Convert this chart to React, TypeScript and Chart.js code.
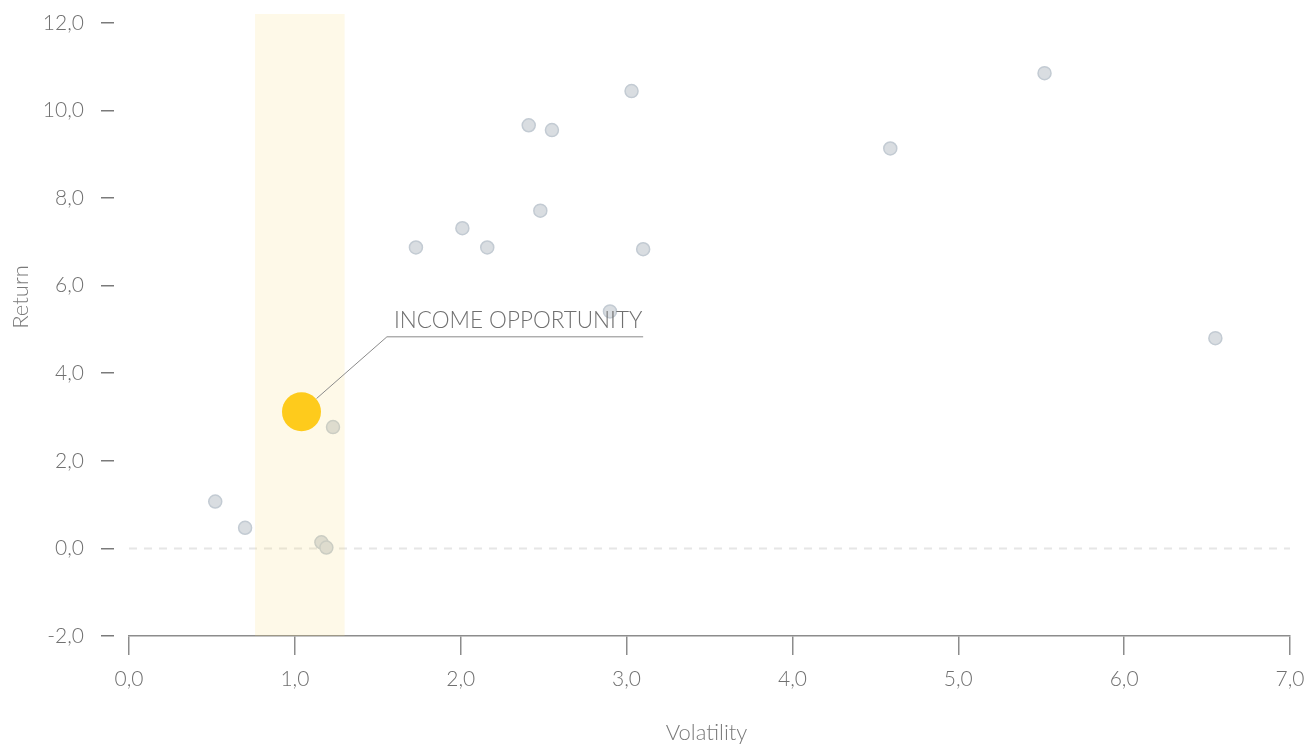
import React, { useEffect, useRef } from "react";
import { Chart, registerables } from "chart.js";

Chart.register(...registerables);

const volatility = [0.52, 0.70, 1.16, 1.19, 1.23, 1.73, 2.01, 2.16, 2.41, 2.48, 2.55, 2.90, 3.03, 3.10, 4.59, 5.52, 6.55];
const returns = [1.07, 0.47, 0.14, 0.02, 2.77, 6.87, 7.31, 6.87, 9.66, 7.71, 9.55, 5.41, 10.44, 6.83, 9.13, 10.85, 4.80];
const highlightVolatility = [1.04];
const highlightReturn = [3.12];
const highlightLabel = "INCOME OPPORTUNITY";
const bandRange = [0.76, 1.3];
const xTicks = [0, 1, 2, 3, 4, 5, 6, 7];
const yTicks = [-2, 0, 2, 4, 6, 8, 10, 12];
const xTitle = "Volatility";
const yTitle = "Return";

const FONT = "Lato, 'Open Sans', sans-serif";
const fmt = (v: number) => v.toFixed(1).replace(".", ",");

export default function App() {
  const ref = useRef<HTMLCanvasElement | null>(null);
  useEffect(() => {
    if (!ref.current) return;
    const overlay = {
      id: "overlay",
      beforeDatasetsDraw(chart: any) {
        const { ctx, chartArea, scales } = chart;
        const y0 = scales.y.getPixelForValue(0);
        ctx.save();
        ctx.strokeStyle = "#e6e6e6";
        ctx.lineWidth = 2;
        ctx.setLineDash([8, 7]);
        ctx.beginPath();
        ctx.moveTo(chartArea.left, y0);
        ctx.lineTo(chartArea.right, y0);
        ctx.stroke();
        ctx.restore();
      },
      afterDatasetsDraw(chart: any) {
        const { ctx, chartArea, scales } = chart;
        const xs = scales.x, ys = scales.y;
        const bx1 = xs.getPixelForValue(bandRange[0]);
        const bx2 = xs.getPixelForValue(bandRange[1]);
        ctx.save();
        ctx.fillStyle = "rgba(250, 215, 110, 0.16)";
        ctx.fillRect(bx1, chartArea.top, bx2 - bx1, chartArea.bottom - chartArea.top);
        ctx.restore();
        const px = xs.getPixelForValue(highlightVolatility[0]);
        const py = ys.getPixelForValue(highlightReturn[0]);
        const ex = xs.getPixelForValue(1.555);
        const ey = ys.getPixelForValue(4.83);
        const endX = xs.getPixelForValue(3.1);
        const dx = ex - px, dy = ey - py;
        const len = Math.sqrt(dx * dx + dy * dy);
        const r = 20;
        ctx.save();
        ctx.strokeStyle = "#8a8a8a";
        ctx.lineWidth = 1;
        ctx.beginPath();
        ctx.moveTo(px + (dx / len) * r, py + (dy / len) * r);
        ctx.lineTo(ex, ey);
        ctx.lineTo(endX, ey);
        ctx.stroke();
        ctx.fillStyle = "#707070";
        ctx.font = `300 22.5px ${FONT}`;
        ctx.textBaseline = "alphabetic";
        ctx.textAlign = "left";
        ctx.fillText(highlightLabel, ex + 7, ey - 9);
        ctx.restore();
        ctx.save();
        ctx.fillStyle = "#7a7a7a";
        ctx.font = `300 22px ${FONT}`;
        ctx.textAlign = "center";
        ctx.textBaseline = "middle";
        ctx.fillText(xTitle, (chartArea.left + chartArea.right) / 2 - 3, 733);
        ctx.translate(21, 297);
        ctx.rotate(-Math.PI / 2);
        ctx.fillText(yTitle, 0, 0);
        ctx.restore();
      },
    };
    const chart = new Chart(ref.current, {
      type: "scatter",
      data: {
        datasets: [
          {
            data: highlightVolatility.map((x, i) => ({ x, y: highlightReturn[i] })),
            backgroundColor: "#ffc90d",
            borderColor: "#ffc90d",
            borderWidth: 0,
            pointRadius: 19.5,
          },
          {
            data: volatility.map((x, i) => ({ x, y: returns[i] })),
            backgroundColor: "#d9dde1",
            borderColor: "#c3cbd3",
            borderWidth: 1.5,
            pointRadius: 6.5,
          },
        ],
      },
      plugins: [overlay],
      options: {
        animation: false,
        responsive: false,
        maintainAspectRatio: false,
        layout: { autoPadding: false, padding: { top: 14, right: 16, left: 0, bottom: 0 } },
        plugins: { legend: { display: false }, tooltip: { enabled: false } },
        scales: {
          x: {
            type: "linear",
            min: 0,
            max: 7,
            afterBuildTicks: (s: any) => { s.ticks = xTicks.map((v) => ({ value: v })); },
            afterFit: (s: any) => { s.height = 110; s.paddingLeft = 0; s.paddingRight = 0; },
            border: { display: true, color: "#8c8c8c", width: 1.5 },
            grid: { drawOnChartArea: false, drawTicks: true, tickLength: 19, color: "#8c8c8c", lineWidth: 1.5 },
            ticks: { padding: 12, color: "#707070", font: { family: FONT, size: 21, weight: 300 }, callback: (v: any) => fmt(Number(v)) },
          },
          y: {
            type: "linear",
            min: -2,
            max: 12.2,
            afterBuildTicks: (s: any) => { s.ticks = yTicks.map((v) => ({ value: v })); },
            afterFit: (s: any) => { s.width = 129; s.paddingTop = 0; s.paddingBottom = 0; },
            border: { display: false },
            grid: { drawOnChartArea: false, drawTicks: true, tickLength: 28, color: "#7a7a7a", lineWidth: 1.5, tickBorderDash: [13, 100] },
            ticks: { padding: 17, color: "#707070", font: { family: FONT, size: 21, weight: 300 }, callback: (v: any) => fmt(Number(v)) },
          },
        },
      },
    } as any);
    return () => chart.destroy();
  }, []);
  return (
    <div style={{ position: "fixed", left: 0, top: 0, width: 1306, height: 746, background: "#fff" }}>
      <canvas ref={ref} width={1306} height={746} style={{ width: 1306, height: 746, display: "block" }} />
    </div>
  );
}
